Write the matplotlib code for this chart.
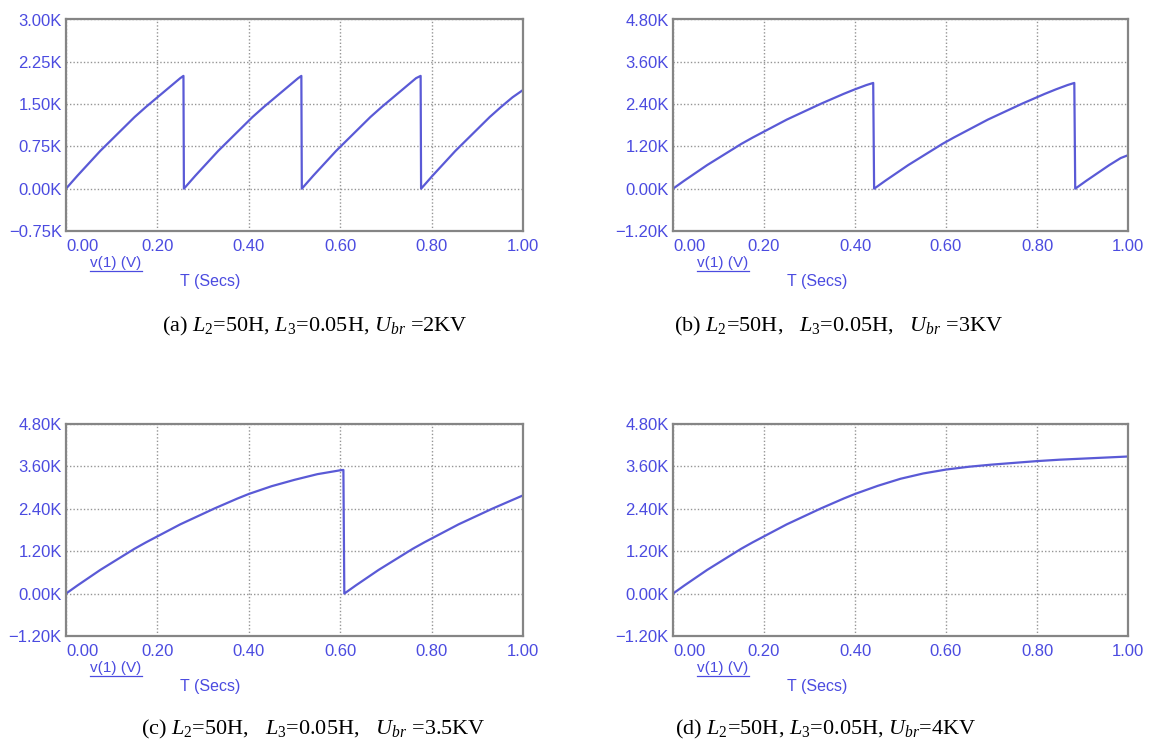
import matplotlib
matplotlib.use("Agg")
import matplotlib.pyplot as plt
from matplotlib.lines import Line2D

plt.rcParams['font.family'] = ['Liberation Sans', 'DejaVu Sans']
plt.rcParams['mathtext.fontset'] = 'custom'
plt.rcParams['mathtext.rm'] = 'Liberation Serif'
plt.rcParams['mathtext.it'] = 'Liberation Serif:italic'
plt.rcParams['mathtext.bf'] = 'Liberation Serif:bold'

# ---------------- data (time in s, voltage in kV) ----------------
# (a) U_br = 2 kV
t_a = [0.000, 0.025, 0.050, 0.075, 0.100, 0.125, 0.150, 0.175, 0.200, 0.225, 0.250, 0.257,
       0.258, 0.283, 0.308, 0.333, 0.358, 0.383, 0.408, 0.433, 0.458, 0.483, 0.508, 0.515,
       0.516, 0.541, 0.566, 0.591, 0.616, 0.641, 0.666, 0.691, 0.716, 0.741, 0.766, 0.776,
       0.777, 0.802, 0.827, 0.852, 0.877, 0.902, 0.927, 0.952, 0.977, 1.000]
v_a = [0.00, 0.23, 0.45, 0.67, 0.87, 1.07, 1.27, 1.45, 1.62, 1.79, 1.96, 2.00,
       0.00, 0.23, 0.45, 0.67, 0.87, 1.07, 1.27, 1.45, 1.62, 1.79, 1.96, 2.00,
       0.00, 0.23, 0.45, 0.67, 0.87, 1.07, 1.27, 1.45, 1.62, 1.79, 1.96, 2.00,
       0.00, 0.23, 0.45, 0.67, 0.87, 1.07, 1.27, 1.45, 1.62, 1.75]

# (b) U_br = 3 kV
t_b = [0.000, 0.025, 0.050, 0.075, 0.100, 0.125, 0.150, 0.175, 0.200, 0.225, 0.250,
       0.275, 0.300, 0.325, 0.350, 0.375, 0.400, 0.425, 0.440,
       0.442, 0.467, 0.492, 0.517, 0.542, 0.567, 0.592, 0.617, 0.642, 0.667, 0.692,
       0.717, 0.742, 0.767, 0.792, 0.817, 0.842, 0.867, 0.882,
       0.884, 0.909, 0.934, 0.959, 0.984, 1.000]
v_b = [0.00, 0.23, 0.45, 0.67, 0.87, 1.07, 1.27, 1.45, 1.62, 1.79, 1.96,
       2.11, 2.26, 2.41, 2.55, 2.69, 2.82, 2.94, 3.00,
       0.00, 0.23, 0.45, 0.67, 0.87, 1.07, 1.27, 1.45, 1.62, 1.79, 1.96,
       2.11, 2.26, 2.41, 2.55, 2.69, 2.82, 2.94, 3.00,
       0.00, 0.23, 0.45, 0.67, 0.87, 0.95]

# (c) U_br = 3.5 kV
t_c = [0.000, 0.025, 0.050, 0.075, 0.100, 0.125, 0.150, 0.175, 0.200, 0.225, 0.250,
       0.275, 0.300, 0.325, 0.350, 0.375, 0.400, 0.450, 0.500, 0.550, 0.600, 0.607,
       0.609, 0.634, 0.659, 0.684, 0.709, 0.734, 0.759, 0.784, 0.809, 0.834, 0.859,
       0.884, 0.909, 0.934, 0.959, 0.984, 1.000]
v_c = [0.00, 0.23, 0.45, 0.67, 0.87, 1.07, 1.27, 1.45, 1.62, 1.79, 1.96,
       2.11, 2.26, 2.41, 2.55, 2.69, 2.82, 3.04, 3.22, 3.38, 3.49, 3.50,
       0.00, 0.23, 0.45, 0.67, 0.87, 1.07, 1.27, 1.45, 1.62, 1.79, 1.96,
       2.11, 2.26, 2.41, 2.55, 2.69, 2.78]

# (d) U_br = 4 kV (no breakdown)
t_d = [0.000, 0.025, 0.050, 0.075, 0.100, 0.125, 0.150, 0.175, 0.200, 0.225, 0.250,
       0.275, 0.300, 0.325, 0.350, 0.375, 0.400, 0.450, 0.500, 0.550, 0.600, 0.650,
       0.700, 0.750, 0.800, 0.850, 0.900, 0.950, 1.000]
v_d = [0.00, 0.23, 0.45, 0.67, 0.87, 1.07, 1.27, 1.45, 1.62, 1.79, 1.96,
       2.11, 2.26, 2.41, 2.55, 2.69, 2.82, 3.05, 3.25, 3.40, 3.51, 3.59,
       3.65, 3.70, 3.75, 3.79, 3.82, 3.85, 3.88]

x_ticks = [0.0, 0.2, 0.4, 0.6, 0.8, 1.0]
x_ticklabels = ["0.00", "0.20", "0.40", "0.60", "0.80", "1.00"]
y_ticks_a = [-0.75, 0.0, 0.75, 1.50, 2.25, 3.00]
y_ticklabels_a = ["\u22120.75K", "0.00K", "0.75K", "1.50K", "2.25K", "3.00K"]
y_ticks_bcd = [-1.2, 0.0, 1.2, 2.4, 3.6, 4.8]
y_ticklabels_bcd = ["\u22121.20K", "0.00K", "1.20K", "2.40K", "3.60K", "4.80K"]

captions = [
    r"(a) $L_2$=50H, $L_3$=0.05H, $U_{br}$ =2KV",
    r"(b) $L_2$=50H,   $L_3$=0.05H,   $U_{br}$ =3KV",
    r"(c) $L_2$=50H,   $L_3$=0.05H,   $U_{br}$ =3.5KV",
    r"(d) $L_2$=50H, $L_3$=0.05H, $U_{br}$=4KV",
]

# ---------------- layout ----------------
W, H = 1155, 749
fig = plt.figure(figsize=(W / 100, H / 100), dpi=100)

LINE_C = "#5a5ad6"
TEXT_C = "#4b4be0"
SPINE_C = "#858585"
GRID_C = "#959595"

# axes boxes in pixels: left, right, top, bottom
boxes = [(66, 523, 19.5, 231), (673, 1128, 19.5, 231),
         (66, 523, 424, 636), (673, 1128, 424, 636)]
cap_pos = [(315, 326), (839, 326), (313, 729), (826, 729)]

panels = [(t_a, v_a, y_ticks_a, y_ticklabels_a),
          (t_b, v_b, y_ticks_bcd, y_ticklabels_bcd),
          (t_c, v_c, y_ticks_bcd, y_ticklabels_bcd),
          (t_d, v_d, y_ticks_bcd, y_ticklabels_bcd)]

vlabels = []
for (l, r, t, b), (tt, vv, yt, ytl), cap, cp in zip(boxes, panels, captions, cap_pos):
    ax = fig.add_axes([l / W, 1 - b / H, (r - l) / W, (b - t) / H])
    ax.plot(tt, vv, color=LINE_C, lw=1.6)
    ax.set_xlim(0, 1.0)
    ax.set_ylim(yt[0], yt[-1])
    ax.set_xticks(x_ticks)
    ax.set_xticklabels(x_ticklabels)
    ax.set_yticks(yt)
    ax.set_yticklabels(ytl)
    ax.tick_params(length=0, labelsize=12, labelcolor=TEXT_C, pad=3)
    ax.tick_params(axis='x', pad=6)
    ax.get_xticklabels()[0].set_horizontalalignment('left')
    ax.grid(True, color=GRID_C, lw=1.0, ls=(0, (1, 1.5)))
    for s in ax.spines.values():
        s.set_color(SPINE_C)
        s.set_linewidth(1.6)
    # labels under the plot
    vl = fig.text((l + 50) / W, 1 - (b + 32) / H, "v(1) (V)", color=TEXT_C,
                  fontsize=11, ha='center', va='center')
    vlabels.append(vl)
    fig.text((l + 144) / W, 1 - (b + 50) / H, "T (Secs)", color=TEXT_C,
             fontsize=11.5, ha='center', va='center')
    fig.text(cp[0] / W, 1 - cp[1] / H, cap, fontsize=16, ha='center',
             va='center', family='Liberation Serif', color='black')

# underline the v(1) (V) labels
fig.canvas.draw()
renderer = fig.canvas.get_renderer()
for vl in vlabels:
    bb = vl.get_window_extent(renderer)
    x0, x1 = bb.x0 / W, bb.x1 / W
    y = (bb.y0 - 1) / H
    fig.add_artist(Line2D([x0, x1], [y, y], color=TEXT_C, lw=0.9,
                          transform=fig.transFigure))

fig.savefig("out.png", dpi=100, facecolor='white')
